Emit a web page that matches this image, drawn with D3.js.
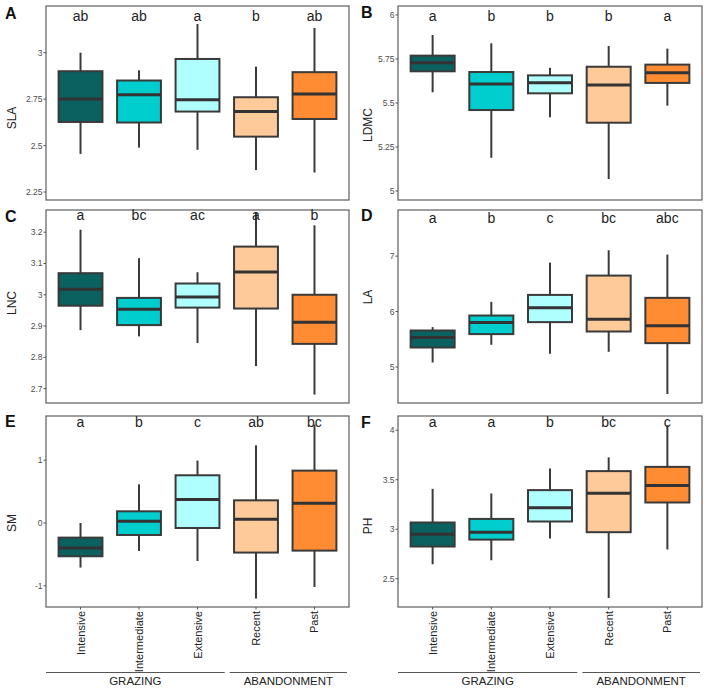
<!DOCTYPE html>
<meta charset="utf-8">
<style>
body { margin: 0; background: #fff; }
text { font-family: 'Liberation Sans', Arial, sans-serif; }
.tick-label { font-size: 8.5px; fill: #4d4d4d; }
.letter { font-size: 14px; fill: #222; }
.ytitle { font-size: 12px; fill: #222; }
.xlabel { font-size: 11px; fill: #222; }
.panel-tag { font-size: 16px; font-weight: bold; fill: #111; }
</style>
<body>
<script src="https://d3js.org/d3.v7.min.js"></script>
<script>

const groups = ["Intensive", "Intermediate", "Extensive", "Recent", "Past"];
const fills = ["#0b6060", "#00cdcd", "#b0ffff", "#ffca99", "#ff8c33"];

// whisker low, q1, median, q3, whisker high
const sla  = [[2.455, 2.627, 2.75, 2.90, 3.0], [2.489, 2.624, 2.773, 2.85, 2.905], [2.477, 2.683, 2.747, 2.966, 3.154], [2.368, 2.548, 2.683, 2.76, 2.925], [2.355, 2.643, 2.778, 2.895, 3.133]];
const ldmc = [[5.561, 5.68, 5.729, 5.769, 5.886], [5.189, 5.46, 5.608, 5.676, 5.839], [5.419, 5.555, 5.615, 5.657, 5.70], [5.068, 5.388, 5.602, 5.706, 5.824], [5.485, 5.614, 5.672, 5.718, 5.809]];
const lnc  = [[2.887, 2.965, 3.018, 3.069, 3.208], [2.867, 2.903, 2.954, 2.99, 3.117], [2.846, 2.959, 2.993, 3.036, 3.072], [2.772, 2.956, 3.073, 3.154, 3.262], [2.681, 2.843, 2.912, 3.0, 3.222]];
const la   = [[5.081, 5.351, 5.532, 5.658, 5.719], [5.40, 5.593, 5.802, 5.928, 6.175], [5.238, 5.809, 6.067, 6.30, 6.883], [5.274, 5.64, 5.863, 6.649, 7.106], [4.512, 5.43, 5.742, 6.247, 7.027]];
const sm   = [[-0.71, -0.53, -0.398, -0.233, 0.0], [-0.446, -0.191, 0.027, 0.186, 0.616], [-0.605, -0.08, 0.373, 0.76, 0.994], [-1.204, -0.471, 0.059, 0.361, 1.237], [-1.019, -0.44, 0.314, 0.834, 1.567]];
const ph   = [[2.646, 2.825, 2.949, 3.068, 3.408], [2.686, 2.895, 2.97, 3.104, 3.361], [2.906, 3.078, 3.216, 3.395, 3.614], [2.305, 2.97, 3.364, 3.587, 3.726], [2.795, 3.27, 3.442, 3.63, 4.05]];

const slaLetters  = ["ab", "ab", "a", "b", "ab"];
const ldmcLetters = ["a", "b", "b", "b", "a"];
const lncLetters  = ["a", "bc", "ac", "a", "b"];
const laLetters   = ["a", "b", "c", "bc", "abc"];
const smLetters   = ["a", "b", "c", "ab", "bc"];
const phLetters   = ["a", "a", "b", "bc", "c"];

const slaTicks  = [2.25, 2.5, 2.75, 3];
const ldmcTicks = [5, 5.25, 5.5, 5.75, 6];
const lncTicks  = [2.7, 2.8, 2.9, 3, 3.1, 3.2];
const laTicks   = [5, 6, 7];
const smTicks   = [-1, 0, 1];
const phTicks   = [2.5, 3, 3.5, 4];

const panels = [
  {tag: "A", title: "SLA",  stats: sla,  letters: slaLetters,  ticks: slaTicks,  domain: [2.207, 3.251], letterY: 3.199, x0: 46, x1: 349, y0: 6,   y1: 200, titleY: 118, tagY: 19},
  {tag: "B", title: "LDMC", stats: ldmc, letters: ldmcLetters, ticks: ldmcTicks, domain: [4.949, 6.051], letterY: 5.996, x0: 398, x1: 702, y0: 6,   y1: 200, titleY: 125, tagY: 18},
  {tag: "C", title: "LNC",  stats: lnc,  letters: lncLetters,  ticks: lncTicks,  domain: [2.654, 3.271], letterY: 3.255, x0: 46, x1: 349, y0: 210, y1: 403, titleY: 303, tagY: 222},
  {tag: "D", title: "LA",   stats: la,   letters: laLetters,   ticks: laTicks,   domain: [4.35, 7.832],  letterY: 7.68,  x0: 398, x1: 702, y0: 210, y1: 403, titleY: 297, tagY: 221},
  {tag: "E", title: "SM",   stats: sm,   letters: smLetters,   ticks: smTicks,   domain: [-1.338, 1.704], letterY: 1.6,  x0: 46, x1: 349, y0: 416, y1: 607, titleY: 523, tagY: 427},
  {tag: "F", title: "PH",   stats: ph,   letters: phLetters,   ticks: phTicks,   domain: [2.214, 4.144], letterY: 4.086, x0: 398, x1: 702, y0: 416, y1: 607, titleY: 526, tagY: 428}
];

const svg = d3.select("body").append("svg")
    .attr("width", 709)
    .attr("height", 692);

panels.forEach((p, pi) => {
  const x = d3.scaleBand()
      .domain(groups)
      .range([p.x0, p.x1])
      .paddingInner(0.25)
      .paddingOuter(0.215);
  const y = d3.scaleLinear()
      .domain(p.domain)
      .range([p.y1, p.y0]);
  const g = svg.append("g");
  const bw = x.bandwidth();

  // frame
  g.append("rect")
      .attr("x", p.x0).attr("y", p.y0)
      .attr("width", p.x1 - p.x0).attr("height", p.y1 - p.y0)
      .attr("fill", "#fff")
      .attr("stroke", "#5e5e5e")
      .attr("stroke-width", 1.2);

  // y ticks
  const ticks = g.append("g").selectAll("g")
      .data(p.ticks)
      .join("g")
        .attr("transform", d => `translate(${p.x0},${y(d)})`);
  ticks.append("line")
      .attr("x1", -2.5).attr("x2", 0)
      .attr("stroke", "#555");
  ticks.append("text")
      .attr("class", "tick-label")
      .attr("x", -3.5)
      .attr("dy", "0.35em")
      .attr("text-anchor", "end")
      .text(d => d);

  // boxes
  const box = g.append("g").selectAll("g")
      .data(p.stats)
      .join("g")
        .attr("transform", (d, i) => `translate(${x(groups[i])},0)`);
  box.append("line")
      .attr("x1", bw / 2).attr("x2", bw / 2)
      .attr("y1", d => y(d[0])).attr("y2", d => y(d[4]))
      .attr("stroke", "#3a3a3a")
      .attr("stroke-width", 2);
  box.append("rect")
      .attr("y", d => y(d[3]))
      .attr("width", bw)
      .attr("height", d => y(d[1]) - y(d[3]))
      .attr("fill", (d, i) => fills[i])
      .attr("stroke", "#3a3a3a")
      .attr("stroke-width", 2);
  box.append("line")
      .attr("x1", 0).attr("x2", bw)
      .attr("y1", d => y(d[2])).attr("y2", d => y(d[2]))
      .attr("stroke", "#333")
      .attr("stroke-width", 3);

  // significance letters
  g.append("g").selectAll("text")
      .data(p.letters)
      .join("text")
        .attr("class", "letter")
        .attr("x", (d, i) => x(groups[i]) + bw / 2)
        .attr("y", y(p.letterY))
        .attr("dy", "0.35em")
        .attr("text-anchor", "middle")
        .text(d => d);

  // axis title and panel tag
  const tx = pi % 2 === 0 ? 12 : 368;
  g.append("text")
      .attr("class", "ytitle")
      .attr("transform", `translate(${tx + 4},${p.titleY}) rotate(-90)`)
      .attr("text-anchor", "middle")
      .text(p.title);
  g.append("text")
      .attr("class", "panel-tag")
      .attr("x", pi % 2 === 0 ? 5 : 361)
      .attr("y", p.tagY)
      .text(p.tag);

  // bottom row: category labels + group brackets
  if (pi >= 4) {
    const xt = g.append("g").selectAll("g")
        .data(groups)
        .join("g")
          .attr("transform", d => `translate(${x(d) + bw / 2},${p.y1})`);
    xt.append("line")
        .attr("y1", 0).attr("y2", 2.5)
        .attr("stroke", "#555");
    xt.append("text")
        .attr("class", "xlabel")
        .attr("transform", "translate(4,4) rotate(-90)")
        .attr("text-anchor", "end")
        .text(d => d);

    const split = x("Recent") - (x.step() - bw) / 2;
    const brackets = [
      {label: "GRAZING", a: p.x0, b: split - 2},
      {label: "ABANDONMENT", a: split + 3, b: p.x1 - 2}
    ];
    brackets.forEach(br => {
      g.append("line")
          .attr("x1", br.a).attr("x2", br.b)
          .attr("y1", 672.5).attr("y2", 672.5)
          .attr("stroke", "#555");
      g.append("text")
          .attr("class", "xlabel")
          .attr("x", (br.a + br.b) / 2)
          .attr("y", 685)
          .attr("text-anchor", "middle")
          .style("font-size", "11.5px")
          .text(br.label);
    });
  }
});

</script>
